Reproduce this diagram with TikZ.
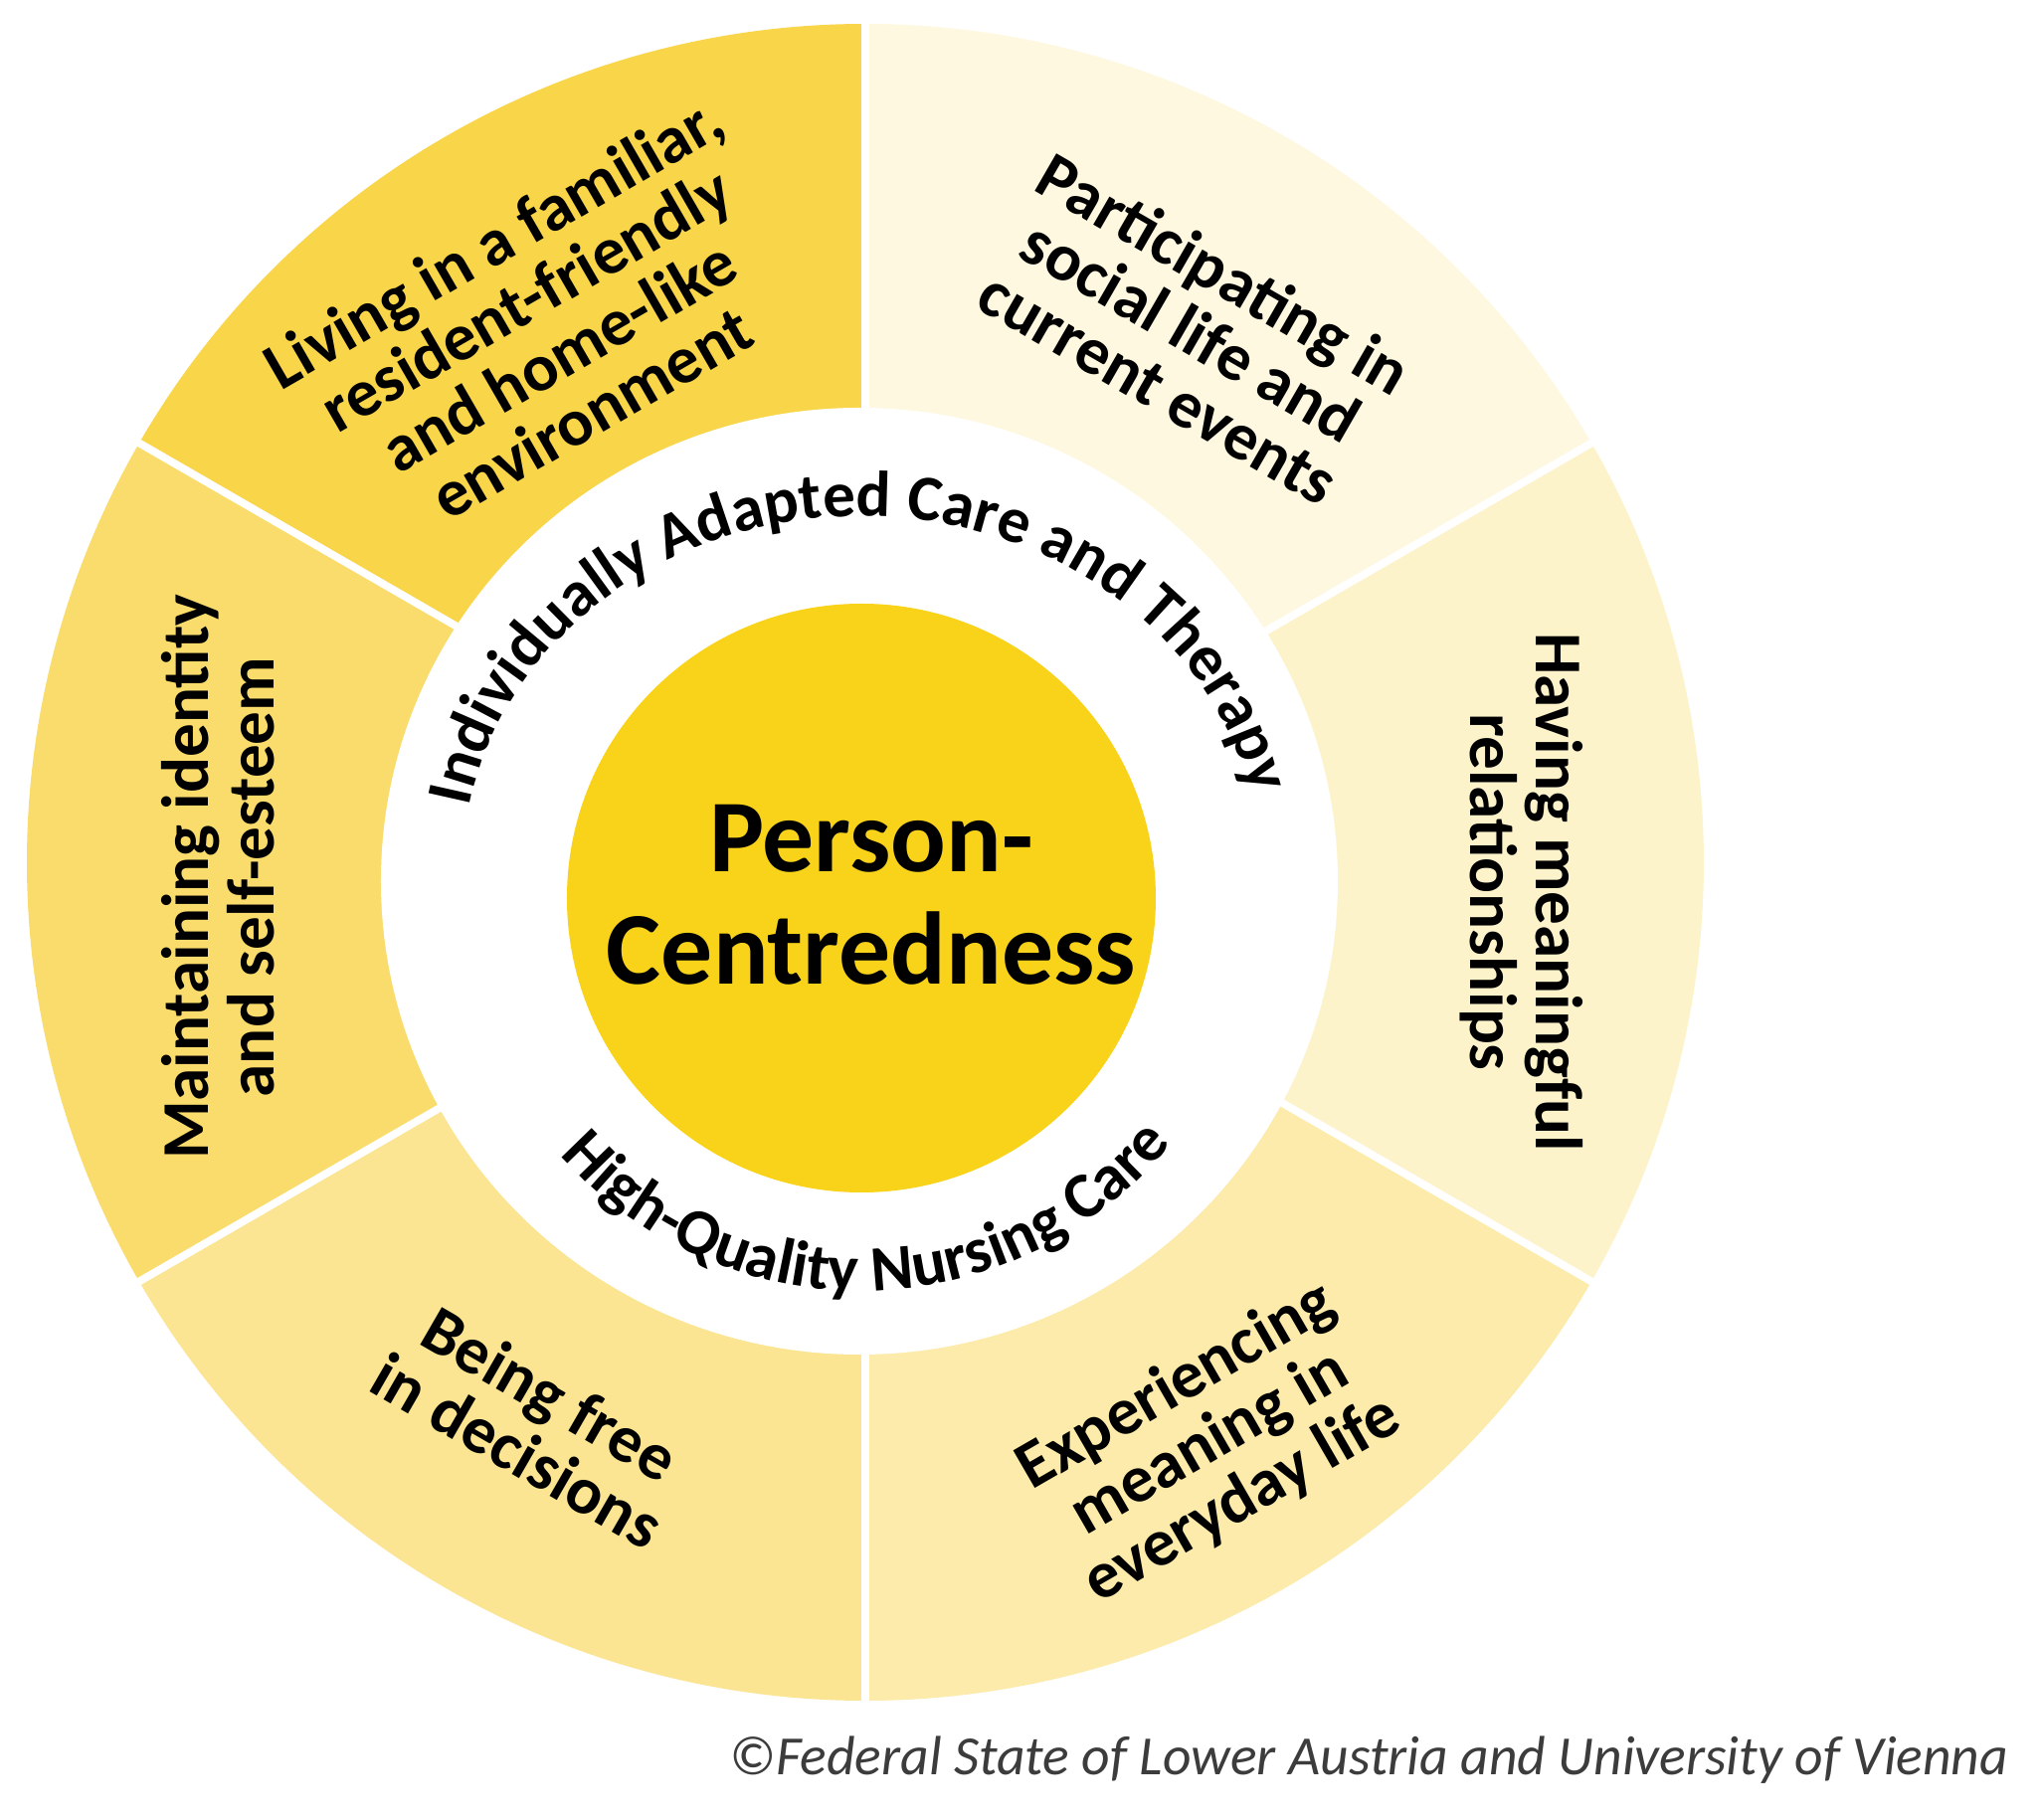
\documentclass[tikz,border=0pt]{standalone}
\usepackage{fontspec}
\setmainfont{Carlito}
\usetikzlibrary{decorations.text}
\definecolor{cLiving}{HTML}{F9D54A}
\definecolor{cMaint}{HTML}{FADC6C}
\definecolor{cBeing}{HTML}{FBE592}
\definecolor{cExp}{HTML}{FCEBAA}
\definecolor{cHave}{HTML}{FDF3CB}
\definecolor{cPart}{HTML}{FEF8E0}
\definecolor{cGold}{HTML}{F9D21A}
\definecolor{cCopy}{HTML}{3C3C3C}
\newcommand\segfont{\fontsize{19.1}{18.8}\selectfont\bfseries\lineskiplimit=-50pt\relax}
\newcommand\arcfont{\fontsize{18.5}{20}\selectfont\bfseries}
\newcommand\copyfont{\fontsize{15.8}{18}\selectfont\itshape}
\newcommand\pcfont{\fontsize{29.5}{32}\selectfont\bfseries}
\tikzset{
  segtext/.style={align=center, font=\segfont, text=black, inner sep=0pt},
  sepline/.style={white, line width=2.2pt},
}
\begin{document}
\begin{tikzpicture}[x=0.01cm,y=0.01cm]
\useasboundingbox (-870,-963) rectangle (1180,867);
\fill[white] (-870,-963) rectangle (1180,867);
% outer sectors
\foreach \a/\c in {90/cLiving,150/cMaint,210/cBeing,270/cExp,330/cHave,30/cPart}{
  \fill[\c] (0,0) -- (\a:843) arc[start angle=\a, delta angle=60, radius=843] -- cycle;
}
% separators
\foreach \a in {30,90,150,210,270,330}{
  \draw[sepline] (0,0) -- (\a:850);
}
% white ring
\fill[white] (-6,-19) ellipse[x radius=481, y radius=476];
% inner circle
\fill[cGold] (-4,-36) circle[radius=296];
\node[font=\pcfont, align=center, inner sep=0pt] (pc) at (6,-33) {Person-\\Centredness};
% curved texts
\path[decoration={text along path, text align=center,
  text={|\arcfont|Individually Adapted Care and Therapy}}, decorate]
  (-4,-5) ++(171:400 and 353) arc[start angle=171, end angle=11, x radius=400, y radius=353];
\path[decoration={text along path, text align=center,
  text={|\arcfont|High-Quality Nursing Care}}, decorate]
  (-4,-28) ++(-164:403) arc[start angle=-164, end angle=-14, radius=403];
% segment texts
\node[segtext, rotate=30] (living) at (-325,538) {Living in a familiar,\\resident-friendly\\and home-like\\environment};
\node[segtext, rotate=-30] (part) at (328,535) {Participating in\\social life and\\current events};
\node[segtext, rotate=-90] (have) at (660,-30) {Having meaningful\\relationships};
\node[segtext, rotate=30] (exp) at (346,-584) {Experiencing\\meaning in\\everyday life};
\node[segtext, rotate=-30] (free) at (-333,-563) {Being free\\in decisions};
\node[segtext, rotate=90] (maint) at (-651,-15) {Maintaining identity\\and self-esteem};
% copyright
\node[font=\copyfont, text=cCopy, anchor=base east, inner sep=0pt] (copy) at (1150,-918) {©Federal State of Lower Austria and University of Vienna};
\end{tikzpicture}
\end{document}
